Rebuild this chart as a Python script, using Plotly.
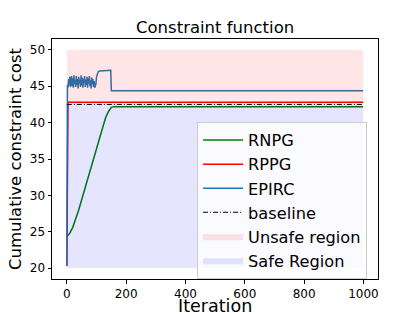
import plotly.graph_objects as go

# ---- data ----
rnpg_x = [0, 10, 20, 30, 40, 50, 60, 70, 80, 90, 100, 110, 120, 130, 140, 150, 160, 999]
rnpg_y = [24.3, 24.8, 25.6, 26.7, 28.0, 29.4, 30.8, 32.3, 33.8, 35.3, 36.7, 38.1, 39.4, 40.6, 41.5, 42.1, 42.2, 42.2]

rppg_x = [0, 4, 999]
rppg_y = [20.3, 42.8, 42.8]

epirc_x = [0, 2, 4, 6, 8, 10, 12, 14, 16, 18, 20, 22, 24, 26, 28, 30, 32, 34, 36, 38,
           40, 42, 44, 46, 48, 50, 52, 54, 56, 58, 60, 62, 64, 66, 68, 70, 72, 74, 76,
           78, 80, 82, 84, 86, 88, 90, 92, 94, 96, 98, 100, 103, 106, 110, 130, 148, 150, 999]
epirc_y = [20.3, 45.2, 44.8, 46.0, 45.1, 46.3, 44.9, 45.8, 46.4, 45.0, 46.1, 44.8, 46.5, 45.3,
           45.9, 44.9, 46.4, 45.2, 46.0, 44.7, 46.3, 45.4, 45.9, 44.9, 46.5, 45.1, 46.2, 44.8,
           46.0, 45.5, 46.4, 44.9, 45.9, 45.2, 46.3, 44.8, 46.1, 45.4, 46.4, 45.0, 45.8, 44.7,
           46.2, 45.3, 46.0, 44.9, 45.7, 44.8, 45.1, 45.3, 46.3, 46.9, 47.0, 47.1, 47.1, 47.2,
           44.4, 44.4]

baseline_x = [0, 999]
baseline_y = [42.5, 42.5]

region_x = [0, 999]
unsafe_low, unsafe_high = 42.5, 50
safe_low, safe_high = 20, 42.5

x_ticks = [0, 200, 400, 600, 800, 1000]
y_ticks = [20, 25, 30, 35, 40, 45, 50]

fig = go.Figure()

def band(name, lo, hi, color):
    xs = [region_x[0], region_x[1], region_x[1], region_x[0], region_x[0]]
    ys = [lo, lo, hi, hi, lo]
    return go.Scatter(x=xs, y=ys, name=name, mode="lines", fill="toself",
                      fillcolor=color, line=dict(width=0, color=color),
                      hoverinfo="skip")

fig.add_trace(go.Scatter(x=rnpg_x, y=rnpg_y, name="RNPG", mode="lines",
                         line=dict(color="green", width=1.5)))
fig.add_trace(go.Scatter(x=rppg_x, y=rppg_y, name="RPPG", mode="lines",
                         line=dict(color="red", width=1.5)))
fig.add_trace(go.Scatter(x=epirc_x, y=epirc_y, name="EPIRC", mode="lines",
                         line=dict(color="#1f77b4", width=1.5)))
fig.add_trace(go.Scatter(x=baseline_x, y=baseline_y, name="baseline", mode="lines",
                         line=dict(color="black", width=1, dash="5px,2px,1px,2px")))
fig.add_trace(band("Unsafe region", unsafe_low, unsafe_high, "rgba(255,0,0,0.1)"))
fig.add_trace(band("Safe Region", safe_low, safe_high, "rgba(0,0,255,0.1)"))

axis_common = dict(showline=True, linecolor="black", linewidth=1, mirror=True,
                   ticks="outside", ticklen=3.5, tickwidth=1, tickcolor="black",
                   showgrid=False, zeroline=False, automargin=False,
                   tickfont=dict(size=12, color="black"))

fig.update_layout(
    width=420, height=315,
    margin=dict(l=52, r=42, t=39, b=36),
    paper_bgcolor="white", plot_bgcolor="white",
    font=dict(family="DejaVu Sans", color="black"),
    xaxis=dict(range=[-50, 1049], tickvals=x_ticks, **axis_common),
    yaxis=dict(range=[18.5, 51.5], tickvals=y_ticks,
               title=dict(text="Cumulative constraint cost", font=dict(size=16.5), standoff=4),
               **axis_common),
    legend=dict(x=0.445, y=0.654, xanchor="left", yanchor="top",
                bgcolor="rgba(255,255,255,0.8)", bordercolor="#cccccc", borderwidth=1,
                font=dict(size=16.2), itemwidth=40, tracegroupgap=0),
    showlegend=True,
    annotations=[
        dict(text="Constraint function", xref="paper", yref="paper",
             x=0.5, y=1, xanchor="center", yanchor="bottom", yshift=0,
             showarrow=False, font=dict(size=16.5)),
        dict(text="Iteration", xref="paper", yref="paper",
             x=0.5, y=-0.15, xanchor="center", yanchor="bottom", yshift=-3,
             showarrow=False, font=dict(size=17.5)),
    ],
)

fig.write_html("out.html", config={"displayModeBar": False},
               post_script="document.body.style.margin='0px';document.body.style.padding='0px';")
